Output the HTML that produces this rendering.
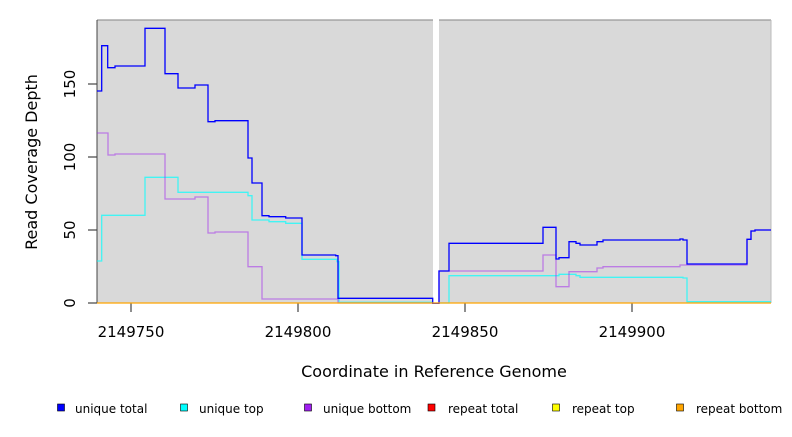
<!DOCTYPE html>
<html><head><meta charset="utf-8"><style>
body{margin:0;background:#fff;width:792px;height:432px;overflow:hidden}
text{font-family:"DejaVu Sans","Liberation Sans",sans-serif;fill:#000}
</style></head><body>
<svg width="792" height="432" viewBox="0 0 792 432" xmlns="http://www.w3.org/2000/svg">
<rect x="97" y="20" width="336" height="283" fill="#d9d9d9"/>
<rect x="439" y="20" width="332" height="283" fill="#d9d9d9"/>
<line x1="97" y1="20" x2="433" y2="20" stroke="#999" stroke-width="1.2"/>
<line x1="439" y1="20" x2="771" y2="20" stroke="#999" stroke-width="1.2"/>
<line x1="771" y1="20" x2="771" y2="303" stroke="#bbb" stroke-width="1"/>
<line x1="97" y1="20" x2="97" y2="303" stroke="#444" stroke-width="1"/>
<g stroke="#444" stroke-width="1.2">
<line x1="88" y1="303" x2="97" y2="303"/><line x1="88" y1="230" x2="97" y2="230"/>
<line x1="88" y1="157" x2="97" y2="157"/><line x1="88" y1="84" x2="97" y2="84"/>
<line x1="131" y1="303" x2="131" y2="312"/><line x1="298" y1="303" x2="298" y2="312"/>
<line x1="465" y1="303" x2="465" y2="312"/><line x1="632" y1="303" x2="632" y2="312"/>
</g>
<g font-size="15" text-anchor="middle">
<text transform="translate(75,303) rotate(-90)">0</text>
<text transform="translate(75,230) rotate(-90)">50</text>
<text transform="translate(75,157) rotate(-90)">100</text>
<text transform="translate(75,84) rotate(-90)">150</text>
<text x="131" y="337">2149750</text><text x="298" y="337">2149800</text>
<text x="465" y="337">2149850</text><text x="632" y="337">2149900</text>
<text x="434" y="377" font-size="16">Coordinate in Reference Genome</text>
<text transform="translate(37,162) rotate(-90)" font-size="16">Read Coverage Depth</text>
</g>
<g fill="none" stroke-width="1.3">
<polyline stroke="#00ffff" stroke-opacity="0.7" points="97,261 101.7,261 101.7,215.3 145,215.3 145,177.3 178,177.3 178,192.3 248,192.3 248,195.7 252,195.7 252,220 269,220 269,221.7 285.7,221.7 285.7,223.3 302,223.3 302,259.3 337,259.3 337,261.7 339,261.7 339,302.3 433,302.3"/>
<polyline stroke="#00ffff" stroke-opacity="0.7" points="439,303 449,303 449,275.7 559,275.7 559,274.3 576,274.3 576,275.7 580,275.7 580,277.3 683,277.3 683,278 687,278 687,301.7 771,301.7"/>
<polyline stroke="#a020f0" stroke-opacity="0.5" points="97,133 108,133 108,155 115,155 115,154 165,154 165,199 195,199 195,197 208,197 208,233 215,233 215,232 248,232 248,266.7 262,266.7 262,299 338,299 338,303 433,303"/>
<polyline stroke="#a020f0" stroke-opacity="0.5" points="433,303 439,303 439,271 543,271 543,255 556,255 556,286.7 569,286.7 569,271.7 597,271.7 597,268 603,268 603,266.7 680,266.7 680,265 747,265 747,239.3 751,239.3 751,231 755,231 755,230 771,230"/>
<polyline stroke="#0000ff" points="97,91 101.7,91 101.7,45.7 107.7,45.7 107.7,67.7 115,67.7 115,66 145,66 145,28.3 165,28.3 165,73.7 178,73.7 178,88 195,88 195,85 208,85 208,121.7 215,121.7 215,120.7 248,120.7 248,158 252,158 252,183 262,183 262,215.7 269,215.7 269,216.7 285.7,216.7 285.7,218 302,218 302,255 335.7,255 335.7,255.7 338,255.7 338,298.3 432.7,298.3 432.7,303.3 439,303.3 439,271 449,271 449,243.3 543,243.3 543,227.3 556,227.3 556,259 559,259 559,257.7 569,257.7 569,241.7 576,241.7 576,243.3 580,243.3 580,245 597,245 597,241.7 603,241.7 603,240 680,240 680,239 683,239 683,240 687,240 687,264 747,264 747,239.3 751,239.3 751,231 755,231 755,230 771,230"/>
<line x1="97" y1="303" x2="771" y2="303" stroke="#ffa500" stroke-width="1.3"/>
</g>
<g font-size="12">
<rect x="57.5" y="404" width="7" height="7" fill="#0000ff" stroke="#000" stroke-width="0.6"/><text x="75" y="413">unique total</text>
<rect x="180.5" y="404" width="7" height="7" fill="#00ffff" stroke="#000" stroke-width="0.6"/><text x="199" y="413">unique top</text>
<rect x="304.5" y="404" width="7" height="7" fill="#a020f0" stroke="#000" stroke-width="0.6"/><text x="323" y="413">unique bottom</text>
<rect x="428" y="404" width="7" height="7" fill="#ff0000" stroke="#000" stroke-width="0.6"/><text x="448" y="413">repeat total</text>
<rect x="552.5" y="404" width="7" height="7" fill="#ffff00" stroke="#000" stroke-width="0.6"/><text x="572" y="413">repeat top</text>
<rect x="676.5" y="404" width="7" height="7" fill="#ffa500" stroke="#000" stroke-width="0.6"/><text x="696" y="413">repeat bottom</text>
</g>
</svg>
</body></html>
